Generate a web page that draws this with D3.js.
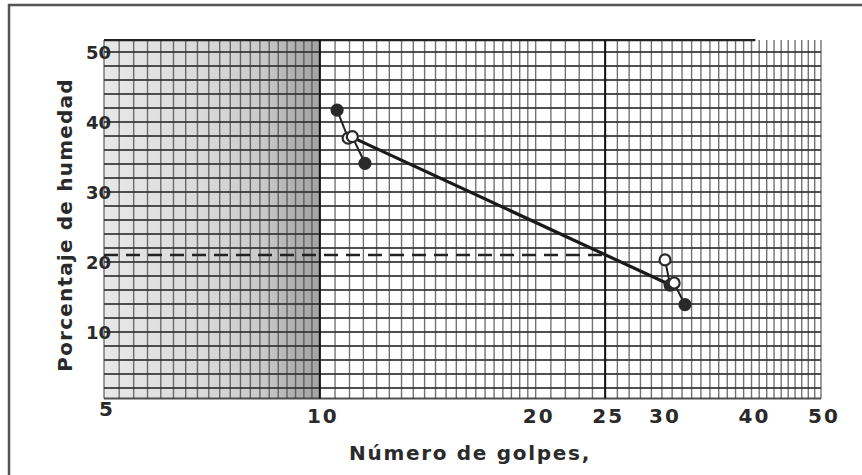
<!DOCTYPE html>
<html>
<head>
	<meta charset="utf-8">
	<title></title>
	<script src="https://d3js.org/d3.v7.min.js" charset="utf-8"></script>
	<style type="text/css">
		body { margin: 0; background: #fff; }
		svg text { font-family: 'DejaVu Sans', sans-serif; fill: #2a2a2a; }
		.tick-label { font-size: 18px; font-weight: bold; }
		.tick-label.x { font-size: 20px; letter-spacing: 2px; }
		.axis-title { font-size: 20px; font-weight: bold; }
	</style>
</head>
<body>
	<script type="text/javascript">
		// datos
		var golpes  = [10.57, 10.95, 11.1, 11.56, 30.3, 30.8, 31.2, 32.3];
		var humedad = [41.7, 37.7, 37.9, 34.1, 20.3, 16.7, 17.0, 13.9];
		var relleno = [true, false, false, true, false, true, false, true];

		var curvaGolpes  = [11.1, 31.0];
		var curvaHumedad = [37.8, 16.6];

		var limiteLiquido = 21;
		var golpesRef = 25;

		var xTicks = [5, 10, 20, 25, 30, 40, 50];
		var yTicks = [10, 20, 30, 40, 50];

		var w = 862, h = 475;

		var svg = d3.select('body').append('svg')
			.attr('width', w)
			.attr('height', h);

		var x = d3.scaleLog().domain([5, 50]).range([104, 821]);
		var y = d3.scaleLinear().domain([0, 50]).range([402, 52]);

		var yTop = 51.7, yBot = 0.5;

		// marco
		svg.append('path')
			.attr('d', 'M9,475 L9,5 L862,5')
			.attr('fill', 'none')
			.attr('stroke', '#555')
			.attr('stroke-width', 2.5);

		// zona sombreada 5-10
		var grad = svg.append('defs').append('linearGradient')
			.attr('id', 'sombra')
			.attr('x1', '0%').attr('x2', '100%');
		grad.append('stop').attr('offset', '0%').attr('stop-color', '#e8e8e8');
		grad.append('stop').attr('offset', '45%').attr('stop-color', '#dadada');
		grad.append('stop').attr('offset', '75%').attr('stop-color', '#c8c8c8');
		grad.append('stop').attr('offset', '88%').attr('stop-color', '#b0b0b0');
		grad.append('stop').attr('offset', '100%').attr('stop-color', '#a4a4a4');

		svg.append('rect')
			.attr('x', x(5))
			.attr('y', y(yTop))
			.attr('width', x(10) - x(5))
			.attr('height', y(yBot) - y(yTop))
			.attr('fill', 'url(#sombra)');

		// rejilla vertical
		var vLines = d3.range(5, 10, 0.25)
			.concat(d3.range(10, 20, 0.5))
			.concat(d3.range(20, 50.01, 1));

		svg.append('g').selectAll('line')
			.data(vLines)
			.enter()
			.append('line')
			.attr('x1', function(d){ return x(d); })
			.attr('x2', function(d){ return x(d); })
			.attr('y1', y(yTop))
			.attr('y2', y(yBot))
			.attr('stroke', '#444')
			.attr('stroke-opacity', 0.75)
			.attr('stroke-width', 1.4);

		// rejilla horizontal
		var hLines = d3.range(2, 51, 2).concat([yBot]);

		svg.append('g').selectAll('line')
			.data(hLines)
			.enter()
			.append('line')
			.attr('x1', x(5))
			.attr('x2', x(50))
			.attr('y1', function(d){ return y(d); })
			.attr('y2', function(d){ return y(d); })
			.attr('stroke', '#333')
			.attr('stroke-opacity', 0.85)
			.attr('stroke-width', 1.8);

		// borde superior
		svg.append('line')
			.attr('x1', x(5)).attr('x2', x(40.5))
			.attr('y1', y(yTop)).attr('y2', y(yTop))
			.attr('stroke', '#222').attr('stroke-width', 2.2);

		// lineas de 10 y 25 golpes
		svg.selectAll('.ref')
			.data([10, golpesRef])
			.enter()
			.append('line')
			.attr('x1', function(d){ return x(d); })
			.attr('x2', function(d){ return x(d); })
			.attr('y1', y(yTop))
			.attr('y2', y(yBot))
			.attr('stroke', '#111')
			.attr('stroke-width', 2);

		// linea discontinua del limite liquido
		svg.append('line')
			.attr('x1', x(5))
			.attr('x2', x(golpesRef))
			.attr('y1', y(limiteLiquido))
			.attr('y2', y(limiteLiquido))
			.attr('stroke', '#222')
			.attr('stroke-width', 2.6)
			.attr('stroke-dasharray', '14,8');

		// puntos unidos
		var puntos = golpes.map(function(g, i){
			return { g: g, h: humedad[i], lleno: relleno[i] };
		});

		var linea = d3.line()
			.x(function(d){ return x(d.g); })
			.y(function(d){ return y(d.h); });

		svg.append('path')
			.datum(puntos.slice(0, 4))
			.attr('d', linea)
			.attr('fill', 'none')
			.attr('stroke', '#222')
			.attr('stroke-width', 2);

		svg.append('path')
			.datum(puntos.slice(4))
			.attr('d', linea)
			.attr('fill', 'none')
			.attr('stroke', '#222')
			.attr('stroke-width', 2);

		// curva de flujo
		svg.append('line')
			.attr('x1', x(curvaGolpes[0]))
			.attr('y1', y(curvaHumedad[0]))
			.attr('x2', x(curvaGolpes[1]))
			.attr('y2', y(curvaHumedad[1]))
			.attr('stroke', '#1a1a1a')
			.attr('stroke-width', 3.2);

		svg.append('g').selectAll('circle')
			.data(puntos)
			.enter()
			.append('circle')
			.attr('cx', function(d){ return x(d.g); })
			.attr('cy', function(d){ return y(d.h); })
			.attr('r', 5.5)
			.attr('fill', function(d){ return d.lleno ? '#2a2a2a' : '#fff'; })
			.attr('stroke', '#2a2a2a')
			.attr('stroke-width', 2.2);

		// etiquetas de los ejes
		svg.append('g').selectAll('text')
			.data(yTicks)
			.enter()
			.append('text')
			.attr('class', 'tick-label')
			.attr('x', x(5) + 7)
			.attr('y', function(d){ return y(d) + 7; })
			.attr('text-anchor', 'end')
			.text(function(d){ return d; });

		svg.append('g').selectAll('text')
			.data(xTicks)
			.enter()
			.append('text')
			.attr('class', 'tick-label x')
			.attr('x', function(d){ return x(d) + 3; })
			.attr('y', function(d){ return d == 5 ? 416 : 423; })
			.attr('text-anchor', 'middle')
			.text(function(d){ return d; });

		svg.append('text')
			.attr('class', 'axis-title')
			.attr('transform', 'translate(72,225) rotate(-90)')
			.attr('text-anchor', 'middle')
			.style('letter-spacing', '1.2px')
			.text('Porcentaje de humedad');

		svg.append('text')
			.attr('class', 'axis-title')
			.attr('x', 470)
			.attr('y', 460)
			.attr('text-anchor', 'middle')
			.style('letter-spacing', '1.7px')
			.text('Número de golpes,');
	</script>
</body>
</html>
